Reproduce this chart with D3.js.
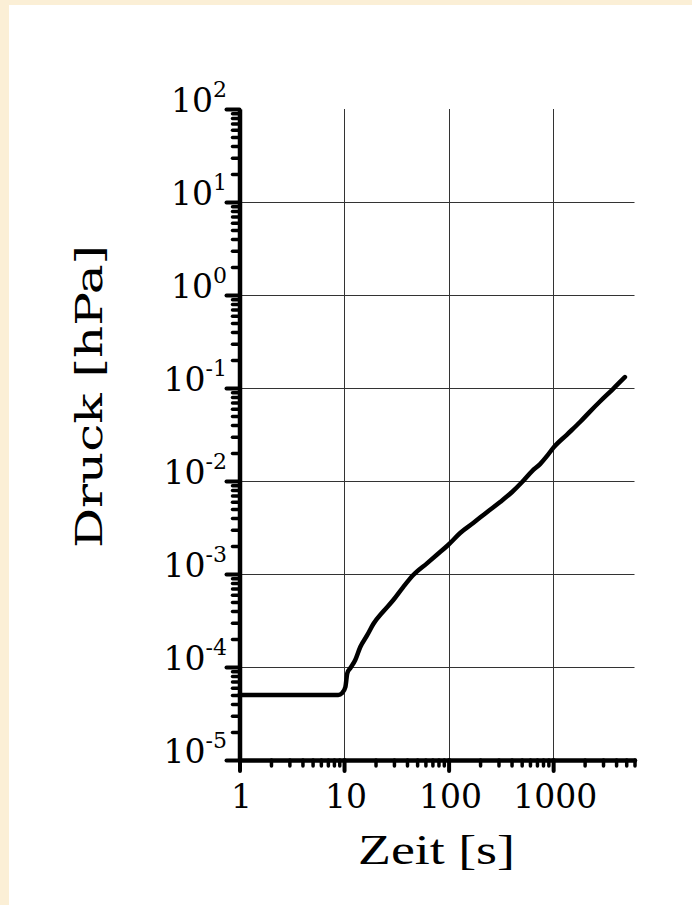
<!DOCTYPE html>
<html>
<head>
<meta charset="utf-8">
<script src="https://cdn.jsdelivr.net/npm/d3@7"></script>
<style>
  html, body { margin: 0; padding: 0; background: #fbefd6; }
  svg { display: block; }
</style>
</head>
<body>
<svg id="chart"></svg>
<script>
// Pumpdown curve: time [s] vs pressure [hPa]
const timeS = [1, 8.8, 9.6, 10.3, 10.75, 11.5, 12.8, 14.3, 16.7, 19.05, 23.7, 29.6, 36.8, 45.9,
  62.5, 77.8, 99, 129, 172, 234, 311, 405, 505, 629, 750, 875, 998, 1358, 1808, 2250, 2805, 3733, 4860];
const pressureHPa = [5.0e-5, 5.0e-5, 5.25e-5, 6.1e-5, 8.6e-5, 9.75e-5, 1.19e-4, 1.64e-4, 2.21e-4, 2.9e-4,
  3.95e-4, 5.25e-4, 7.24e-4, 9.75e-4, 1.31e-3, 1.62e-3, 2.05e-3, 2.76e-3, 3.53e-3, 4.65e-3, 5.94e-3,
  7.62e-3, 9.75e-3, 1.28e-2, 1.52e-2, 1.86e-2, 2.26e-2, 3.16e-2, 4.31e-2, 5.58e-2, 7.16e-2, 9.75e-2, 0.131];

// axis stuff
const xTickValues = [1, 10, 100, 1000];
const xTickLabels = ["1", "10", "100", "1000"];
const yTickExponents = [2, 1, 0, -1, -2, -3, -4, -5];
const xDomain = [1, 6000];
const yDomain = [1e-5, 1e2];
const xTitle = "Zeit [s]";
const yTitle = "Druck [hPa]";

const W = 692, H = 905;

const svg = d3.select("#chart")
  .attr("width", W)
  .attr("height", H);

// white panel on the beige page
svg.append("rect")
  .attr("x", 9).attr("y", 5)
  .attr("width", W - 9).attr("height", H - 5)
  .attr("fill", "#ffffff");

const x = d3.scaleLog().domain(xDomain).range([239.5, 634.5]);
const y = d3.scaleLog().domain(yDomain).range([760, 109]);

const yMajor = yTickExponents.map(e => Math.pow(10, e));
const isMajor = v => Math.abs(Math.log10(v) - Math.round(Math.log10(v))) < 1e-9;
const yMinor = y.ticks().filter(v => !isMajor(v));
const xMinor = x.ticks().filter(v => !isMajor(v) && v <= xDomain[1]);

// grid lines
const grid = svg.append("g").attr("stroke", "#333").attr("stroke-width", 1);
grid.selectAll(".hgrid")
  .data(yMajor.filter(v => v > yDomain[0] && v < yDomain[1]))
  .enter().append("line")
  .attr("x1", x(xDomain[0])).attr("x2", x(xDomain[1]))
  .attr("y1", d => Math.round(y(d)) + 0.5).attr("y2", d => Math.round(y(d)) + 0.5);
grid.selectAll(".vgrid")
  .data(xTickValues.filter(v => v > xDomain[0]))
  .enter().append("line")
  .attr("x1", d => Math.round(x(d)) + 0.5).attr("x2", d => Math.round(x(d)) + 0.5)
  .attr("y1", y(yDomain[1])).attr("y2", y(yDomain[0]));

// data curve
const line = d3.line()
  .x((d, i) => x(timeS[i]))
  .y(d => y(d))
  .curve(d3.curveMonotoneX);

svg.append("path")
  .datum(pressureHPa)
  .attr("d", line)
  .attr("fill", "none")
  .attr("stroke", "#000")
  .attr("stroke-width", 4.5)
  .attr("stroke-linejoin", "round")
  .attr("stroke-linecap", "round");

function styleAxis(g, w) {
  g.selectAll(".tick line")
    .attr("stroke", "#000")
    .attr("stroke-width", w)
    .attr("stroke-linecap", "round");
  g.selectAll(".tick text").remove();
}

// Y axis: minor then major ticks
const yMinorG = svg.append("g")
  .attr("transform", `translate(${x(xDomain[0])},0)`)
  .call(d3.axisLeft(y).tickValues(yMinor).tickSize(7).tickSizeOuter(0).tickFormat(""));
yMinorG.select(".domain").remove();
styleAxis(yMinorG, 3.5);

const yMajorG = svg.append("g")
  .attr("transform", `translate(${x(xDomain[0])},0)`)
  .call(d3.axisLeft(y).tickValues(yMajor).tickSize(13).tickSizeOuter(0).tickFormat(""));
yMajorG.select(".domain").attr("stroke", "#000").attr("stroke-width", 4.5);
styleAxis(yMajorG, 4);

// X axis
const xMinorG = svg.append("g")
  .attr("transform", `translate(0,${y(yDomain[0])})`)
  .call(d3.axisBottom(x).tickValues(xMinor).tickSize(6).tickSizeOuter(0).tickFormat(""));
xMinorG.select(".domain").remove();
styleAxis(xMinorG, 3.5);

const xMajorG = svg.append("g")
  .attr("transform", `translate(0,${y(yDomain[0])})`)
  .call(d3.axisBottom(x).tickValues(xTickValues).tickSize(11).tickSizeOuter(0).tickFormat(""));
xMajorG.select(".domain").attr("stroke", "#000").attr("stroke-width", 4.5)
  .attr("stroke-linecap", "round");
styleAxis(xMajorG, 4);

// y tick labels 10^n
const yLabels = svg.append("g")
  .attr("font-family", "'DejaVu Serif', serif")
  .attr("fill", "#000");
yTickExponents.forEach(e => {
  const t = yLabels.append("text")
    .attr("x", 227)
    .attr("y", y(Math.pow(10, e)) + 3)
    .attr("text-anchor", "end")
    .attr("font-size", 33);
  t.append("tspan").text("10");
  t.append("tspan")
    .attr("font-size", 22)
    .attr("dy", -15)
    .text(String(e));
});

// x tick labels
svg.append("g")
  .attr("font-family", "'DejaVu Serif', serif")
  .attr("font-size", 33)
  .selectAll("text")
  .data(xTickValues)
  .enter().append("text")
  .attr("x", d => x(d) + 2)
  .attr("y", 808)
  .attr("text-anchor", "middle")
  .text((d, i) => xTickLabels[i]);

// axis titles
svg.append("text")
  .attr("x", 436.5)
  .attr("y", 864)
  .attr("text-anchor", "middle")
  .attr("font-family", "'Liberation Serif', serif")
  .attr("font-size", 42)
  .attr("textLength", 157)
  .attr("lengthAdjust", "spacingAndGlyphs")
  .text(xTitle);

svg.append("text")
  .attr("transform", "translate(102,396.5) rotate(-90)")
  .attr("text-anchor", "middle")
  .attr("font-family", "'DejaVu Serif', serif")
  .attr("font-size", 38)
  .attr("textLength", 303)
  .attr("lengthAdjust", "spacingAndGlyphs")
  .text(yTitle);
</script>
</body>
</html>
